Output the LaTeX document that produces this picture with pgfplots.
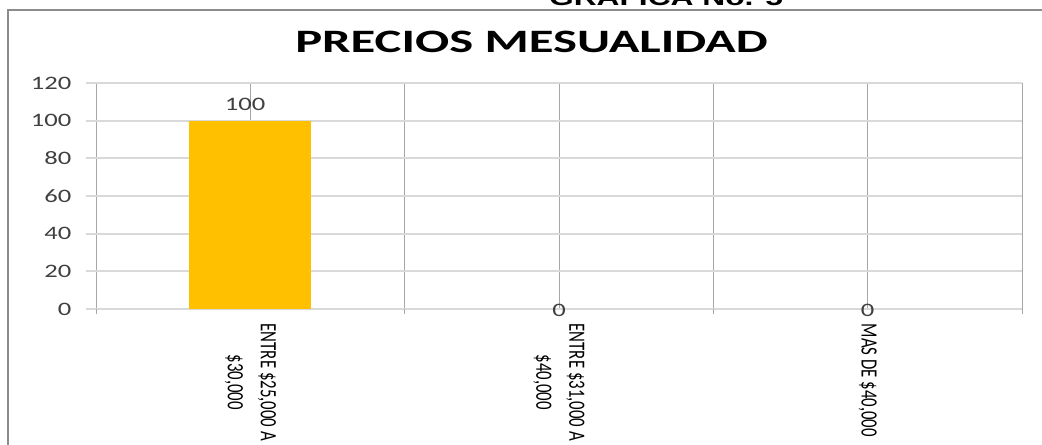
\documentclass[border=0pt]{standalone}
\usepackage{pgfplots}
\pgfplotsset{compat=1.18}
\usepackage{fontspec}
\setmainfont{Carlito}
\newfontfamily\widefont[FakeStretch=1.4]{Carlito}
\newfontfamily\titlefont[FakeStretch=1.55]{Carlito}
\newfontfamily\narrowfont[FakeStretch=0.72]{Carlito}
\newfontfamily\headfont[FakeStretch=1.4]{Liberation Sans}

\definecolor{barfill}{HTML}{FFC000}
\definecolor{hgrid}{HTML}{D9D9D9}
\definecolor{vgrid}{HTML}{A6A6A6}
\definecolor{ticktext}{HTML}{404040}
\definecolor{frame}{HTML}{8C8C8C}

\begin{document}
\begin{tikzpicture}
% frame (only left and top edges are in the picture)
\draw[frame, line width=1.6pt] (6pt,0pt) -- (6pt,326.25pt) -- (781.5pt,326.25pt);

% caption, cut at the top of the page
\node[anchor=base, font=\headfont\bfseries\fontsize{17}{20}\selectfont]
  at (499.5pt,329.25pt) {GRAFICA No. 5};

% chart title
\node[anchor=base, font=\titlefont\bfseries\fontsize{24.5}{28}\selectfont]
  at (398.6pt,294pt) {PRECIOS MESUALIDAD};

\begin{axis}[
  at={(72pt,102pt)}, anchor=south west,
  scale only axis,
  width=694.5pt, height=169.5pt,
  xmin=-0.5, xmax=2.5,
  ymin=0, ymax=120,
  enlargelimits=false,
  axis line style={draw=none},
  ybar,
  bar width=0.395,
  xtick={0,1,2},
  xticklabels={{ENTRE \$25,000 A\\\$30,000},{ENTRE \$31,000 A\\\$40,000},{MAS DE \$40,000}},
  minor xtick={-0.5,0.5,1.5,2.5},
  ytick={0,20,...,120},
  tick pos=left,
  xmajorgrids, xminorgrids, ymajorgrids,
  y grid style={color=hgrid, line width=1.5pt},
  x grid style={color=vgrid, line width=0.6pt},
  minor grid style={color=vgrid, line width=0.6pt},
  tick align=outside,
  major tick length=7.5pt,
  minor tick length=3.75pt,
  every major x tick/.append style={draw=none},
  every minor x tick/.append style={color=vgrid, line width=0.6pt},
  ytick style={color=hgrid, line width=1.5pt},
  /pgf/number format/assume math mode=true,
  yticklabel style={font=\widefont\fontsize{14.25}{17}\selectfont, text=ticktext, xshift=-7.5pt},
  xticklabel style={font=\narrowfont\fontsize{17.5}{24.75}\selectfont, rotate=-90,
    anchor=west, align=center, text=black},
  nodes near coords,
  every node near coord/.append style={font=\widefont\fontsize{14.25}{17}\selectfont,
    text=ticktext, anchor=center},
]
\addplot+[bar shift=0pt, fill=barfill, draw=none,
  every node near coord/.append style={yshift=12.5pt, xshift=-4pt}]
  coordinates {(0,100)};
\addplot+[bar shift=0pt, fill=none, draw=none,
  every node near coord/.append style={yshift=-0.75pt}]
  coordinates {(1,0) (2,0)};
\end{axis}

\pgfresetboundingbox
\path[use as bounding box] (0pt,0pt) rectangle (781.5pt,333.75pt);
\end{tikzpicture}
\end{document}
